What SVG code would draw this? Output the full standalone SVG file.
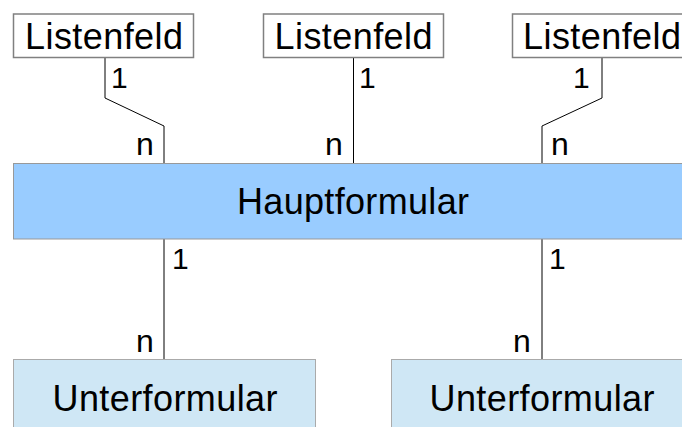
<svg xmlns="http://www.w3.org/2000/svg" width="682" height="427" viewBox="0 0 682 427">
<style>
.lf{fill:#ffffff;stroke:#808080;stroke-width:1.5}
.hf{fill:#99ccff;stroke:#999999;stroke-width:1}
.uf{fill:#cfe7f5;stroke:#aaaaaa;stroke-width:1}
.t{font-family:"Liberation Sans",Arial,sans-serif;font-size:36px;fill:#000;text-anchor:middle}
.one{font-family:"Liberation Sans",Arial,sans-serif;font-size:30px;fill:#000}
.n{font-family:"Liberation Sans",Arial,sans-serif;font-size:32px;fill:#000}
.c{fill:none;stroke:#000;stroke-width:1}
</style>
<rect width="682" height="427" fill="#ffffff"/>
<g id="connectors">
<polyline class="c" points="105,58 105,98 164,126 164,163"/>
<polyline class="c" points="353.5,58 353.5,163"/>
<polyline class="c" points="602,58 602,98 542,126 542,163"/>
<line class="c" x1="164" y1="239" x2="164" y2="359"/>
<line class="c" x1="542" y1="239" x2="542" y2="359"/>
<text class="one" x="111" y="87.5">1</text>
<text class="n" x="136" y="155">n</text>
<text class="one" x="359" y="87.5">1</text>
<text class="n" x="325" y="155">n</text>
<text class="one" x="573" y="87.5">1</text>
<text class="n" x="551" y="155">n</text>
<text class="one" x="172" y="268.5">1</text>
<text class="n" x="136" y="352">n</text>
<text class="one" x="549" y="268.5">1</text>
<text class="n" x="513" y="352">n</text>
</g>
<g id="listenfeld1">
<rect class="lf" x="13.5" y="14" width="180" height="43.5"/>
<text class="t" x="104" y="49" textLength="158">Listenfeld</text>
</g>
<g id="listenfeld2">
<rect class="lf" x="263.5" y="14" width="180" height="43.5"/>
<text class="t" x="353.5" y="49" textLength="158">Listenfeld</text>
</g>
<g id="listenfeld3">
<rect class="lf" x="512.5" y="14" width="180" height="43.5"/>
<text class="t" x="602" y="49" textLength="158">Listenfeld</text>
</g>
<g id="hauptformular">
<rect class="hf" x="13.5" y="163.5" width="680" height="75.5"/>
<text class="t" x="353" y="214" textLength="232">Hauptformular</text>
</g>
<g id="unterformular1">
<rect class="uf" x="13.5" y="359.5" width="302" height="80"/>
<text class="t" x="165" y="410.5" textLength="225">Unterformular</text>
</g>
<g id="unterformular2">
<rect class="uf" x="391.5" y="359.5" width="302" height="80"/>
<text class="t" x="542" y="410.5" textLength="225">Unterformular</text>
</g>
</svg>
